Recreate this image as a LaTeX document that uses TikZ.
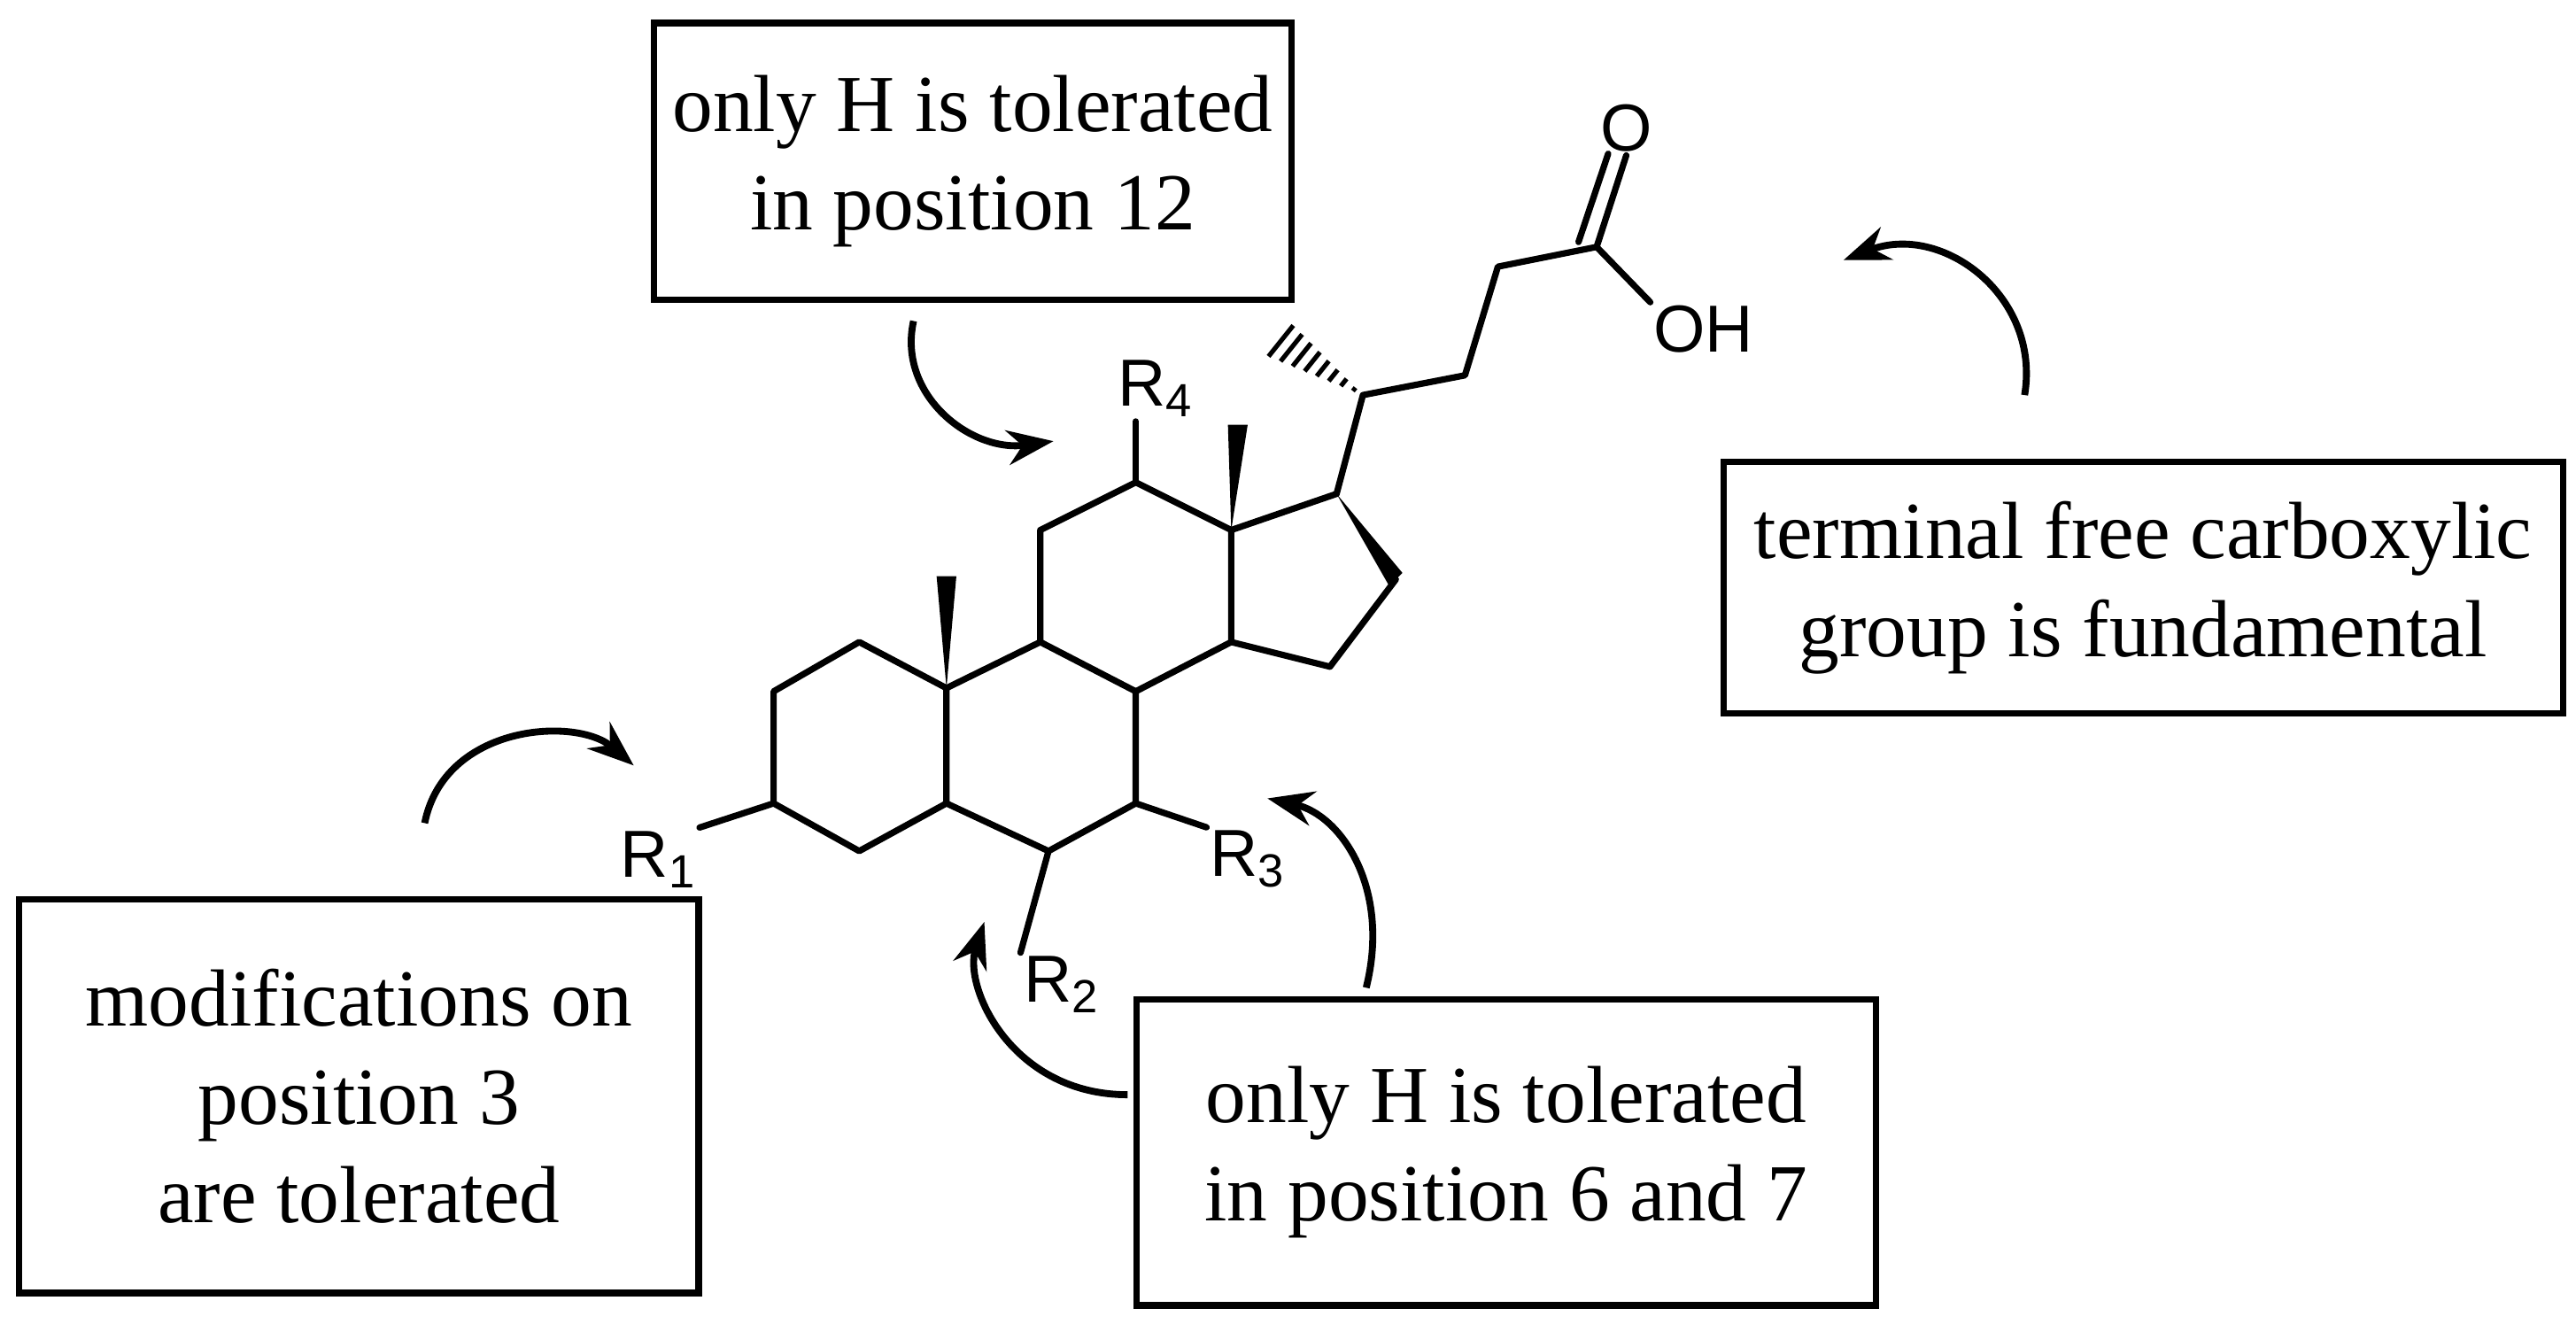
\documentclass[tikz,border=0pt]{standalone}
\usepackage{fontspec}
\setmainfont{Liberation Serif}
\newfontfamily\atomfont{Liberation Sans}
\usetikzlibrary{arrows.meta,calc}
\begin{document}
\begin{tikzpicture}[x=0.02cm,y=-0.02cm,
  bond/.style={line width=2.2pt,line cap=round,line join=round},
  box/.style={draw,line width=2.2pt,inner sep=0pt,align=center,font=\fontsize{28}{34}\selectfont},
  atom/.style={font=\atomfont\fontsize{23}{26}\selectfont,inner sep=1pt},
  carrow/.style={line width=2.4pt,-{Stealth[length=16pt,width=12pt]}}]
\useasboundingbox (0,0) rectangle (1565,804);
% boxes
\node[box,minimum width=387*0.02cm,minimum height=168*0.02cm] (b12) at (591,98) {only H is tolerated\\in position 12};
\node[box,minimum width=510*0.02cm,minimum height=153*0.02cm] (bcx) at (1302,357) {terminal free carboxylic\\group is fundamental};
\node[box,minimum width=413*0.02cm,minimum height=239*0.02cm] (b3) at (218,666) {modifications on\\position 3\\are tolerated};
\node[box,minimum width=449*0.02cm,minimum height=186*0.02cm] (b67) at (915,700) {only H is tolerated\\in position 6 and 7};
% atoms
\coordinate (a1) at (470,420); \coordinate (a2) at (522,390);
\coordinate (c10) at (575,418); \coordinate (c5) at (575,488);
\coordinate (c4) at (522,517); \coordinate (c3) at (470,488);
\coordinate (c9) at (632,390); \coordinate (c8) at (690,420);
\coordinate (c7) at (690,488); \coordinate (c6) at (637,517);
\coordinate (c11) at (632,322); \coordinate (c12) at (690,293);
\coordinate (c13) at (748,322); \coordinate (c14) at (748,390);
\coordinate (c17) at (812,300); \coordinate (c16) at (848,352);
\coordinate (c15) at (808,405);
\coordinate (c20) at (828,240); \coordinate (c22) at (890,228);
\coordinate (c23) at (910,162); \coordinate (c24) at (970,150);
\coordinate (me10) at (575,350); \coordinate (me13) at (752,258);
\coordinate (me21) at (775,205);
\node[atom] (R1) at (400,522) {R\textsubscript{1}};
\node[atom] (R2) at (645,598) {R\textsubscript{2}};
\node[atom] (R3) at (758,522) {R\textsubscript{3}};
\node[atom] (R4) at (702,236) {R\textsubscript{4}};
\node[atom] (O) at (988,78) {O};
\node[atom] (OH) at (1035,200) {OH};
\draw[bond] (c3)--(a1)--(a2)--(c10)--(c5)--(c4)--cycle;
\draw[bond] (c10)--(c9)--(c8)--(c7)--(c6)--(c5);
\draw[bond] (c9)--(c11)--(c12)--(c13)--(c14)--(c8);
\draw[bond] (c13)--(c17) (c16)--(c15)--(c14);
\draw[bond] (c17)--(c20)--(c22)--(c23)--(c24);
\draw[bond] (c3)--(R1.north east);
\draw[bond] (c6)--(R2.north west);
\draw[bond] (c7)--(R3.north west);
\draw[bond] (c12)--(690,256);
\draw[bond] (c24)--(O.south);
\draw[bond] ($(c24)+(-11,-3)$) -- ($(O.south)+(-11,-1)$);
\draw[bond] (c24)--(OH.north west);
% wedges
\fill (c10) -- ($(me10)+(-6,0)$) -- ($(me10)+(6,0)$) -- cycle;
\fill (c13) -- ($(me13)+(-6,0)$) -- ($(me13)+(6,0)$) -- cycle;
\fill (c17) -- ($(c16)+(-4,4)$) -- ($(c16)+(4,-4)$) -- cycle;
% hashed
\foreach \t in {0.1,0.22,...,1.0} {
  \draw[line width=1.6pt] ($(c20)!\t!(me21)+(-\t*8,\t*10)$) -- ($(c20)!\t!(me21)+(\t*8,-\t*10)$);
}
% curved arrows
\draw[carrow] (555,195) .. controls (545,240) and (590,275) .. (640,268);
\draw[carrow] (258,500) .. controls (270,440) and (350,435) .. (385,465);
\draw[carrow] (685,665) .. controls (615,665) and (585,600) .. (598,560);
\draw[carrow] (830,600) .. controls (845,540) and (815,495) .. (770,485);
\draw[carrow] (1230,240) .. controls (1240,180) and (1180,135) .. (1120,158);
\end{tikzpicture}
\end{document}
